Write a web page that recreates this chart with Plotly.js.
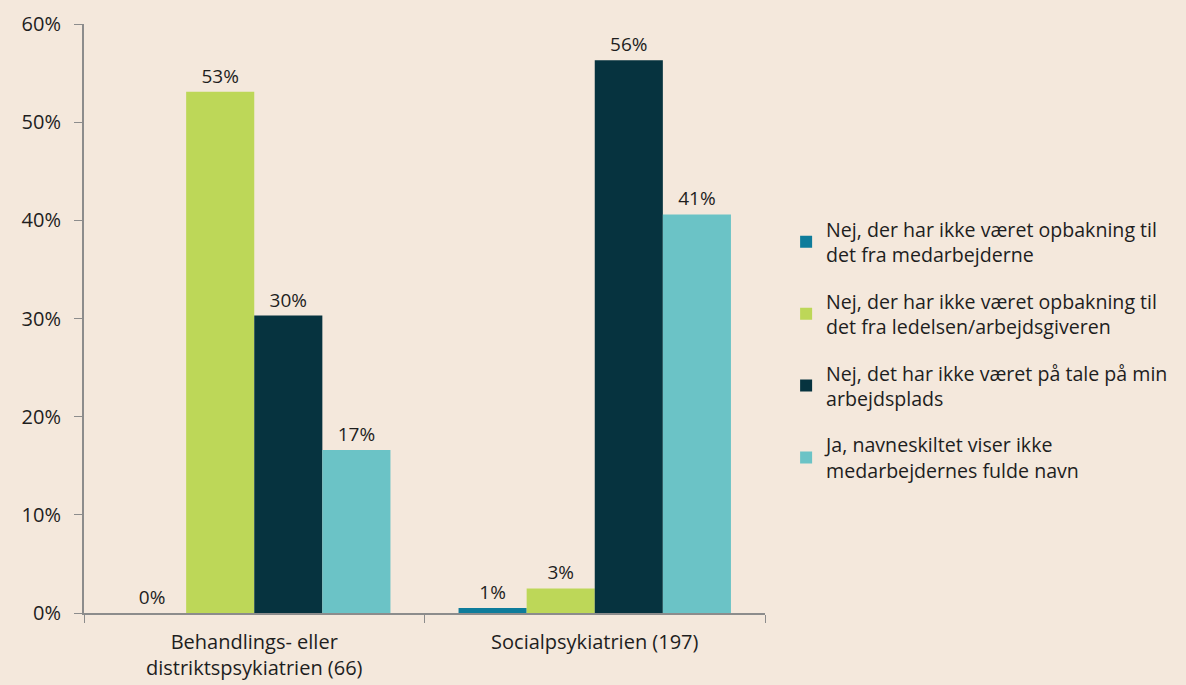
<!DOCTYPE html>
<html>
<head>
<meta charset="utf-8">
<script src="https://cdn.plot.ly/plotly-3.0.1.min.js"></script>
<style>html,body{margin:0;padding:0;background:#F4E8DC;}</style>
</head>
<body>
<div id="chart" style="width:1186px;height:685px;"></div>
<script>
const categories = ["Behandlings- eller<br>distriktspsykiatrien (66)", "Socialpsykiatrien (197)"];
const seriesNames = [
  "Nej, der har ikke været opbakning til<br>det fra medarbejderne",
  "Nej, der har ikke været opbakning til<br>det fra ledelsen/arbejdsgiveren",
  "Nej, det har ikke været på tale på min<br>arbejdsplads",
  "Ja, navneskiltet viser ikke<br>medarbejdernes fulde navn"
];
const medarbejderne = [0.0, 0.5];
const ledelsen = [53.1, 2.5];
const ikkePaaTale = [30.3, 56.3];
const navneskilt = [16.6, 40.6];
const labelsMedarbejderne = ["0%", "1%"];
const labelsLedelsen = ["53%", "3%"];
const labelsIkkePaaTale = ["30%", "56%"];
const labelsNavneskilt = ["17%", "41%"];
const colors = ["#0E7C9B", "#BDD758", "#06333F", "#6BC3C6"];
const yTicks = [0, 10, 20, 30, 40, 50, 60];
const yTickLabels = ["0%", "10%", "20%", "30%", "40%", "50%", "60%"];

const values = [medarbejderne, ledelsen, ikkePaaTale, navneskilt];
const labels = [labelsMedarbejderne, labelsLedelsen, labelsIkkePaaTale, labelsNavneskilt];

const fam = "Open Sans, Noto Sans, sans-serif";
const txt = "#1E1E1E";
const tickFont = {family: fam, size: 19, color: txt};
const yFont = {family: fam, size: 20, color: txt};
const catFont = {family: fam, size: 20, color: txt};
const legFont = {family: fam, size: 19.6, color: txt};

const traces = values.map((v, i) => ({
  type: "bar",
  name: seriesNames[i],
  x: categories,
  y: v,
  text: labels[i],
  textposition: "outside",
  textfont: tickFont,
  cliponaxis: false,
  marker: {color: colors[i], line: {width: 0}},
  legendgroup: "g" + i,
  hoverinfo: "skip"
}));

const layout = {
  width: 1186,
  height: 685,
  paper_bgcolor: "#F4E8DC",
  plot_bgcolor: "#F4E8DC",
  font: tickFont,
  barmode: "group",
  bargap: 0.2,
  bargroupgap: 0,
  margin: {l: 84, r: 421, t: 24, b: 72, autoexpand: false},
  showlegend: true,
  legend: {
    x: 1.031, xanchor: "left",
    y: 0.447, yanchor: "middle",
    font: legFont,
    traceorder: "grouped",
    tracegroupgap: 18,
    bgcolor: "rgba(0,0,0,0)",
    itemwidth: 30
  },
  xaxis: {
    type: "category",
    showline: true,
    linecolor: "#8C8C8C",
    linewidth: 2,
    ticks: "outside",
    tickson: "boundaries",
    ticklen: 8,
    tickcolor: "#8C8C8C",
    tickwidth: 1,
    ticklabelstandoff: 10,
    showgrid: false,
    tickfont: catFont,
    fixedrange: true
  },
  yaxis: {
    range: [0, 60],
    tickvals: yTicks,
    ticktext: yTickLabels,
    showline: true,
    linecolor: "#8C8C8C",
    linewidth: 2,
    ticks: "outside",
    ticklen: 8,
    tickcolor: "#8C8C8C",
    tickwidth: 1,
    ticklabelstandoff: 9,
    showgrid: false,
    zeroline: false,
    tickfont: yFont,
    fixedrange: true
  }
};

Plotly.newPlot("chart", traces, layout, {displayModeBar: false, staticPlot: true});
</script>
</body>
</html>
